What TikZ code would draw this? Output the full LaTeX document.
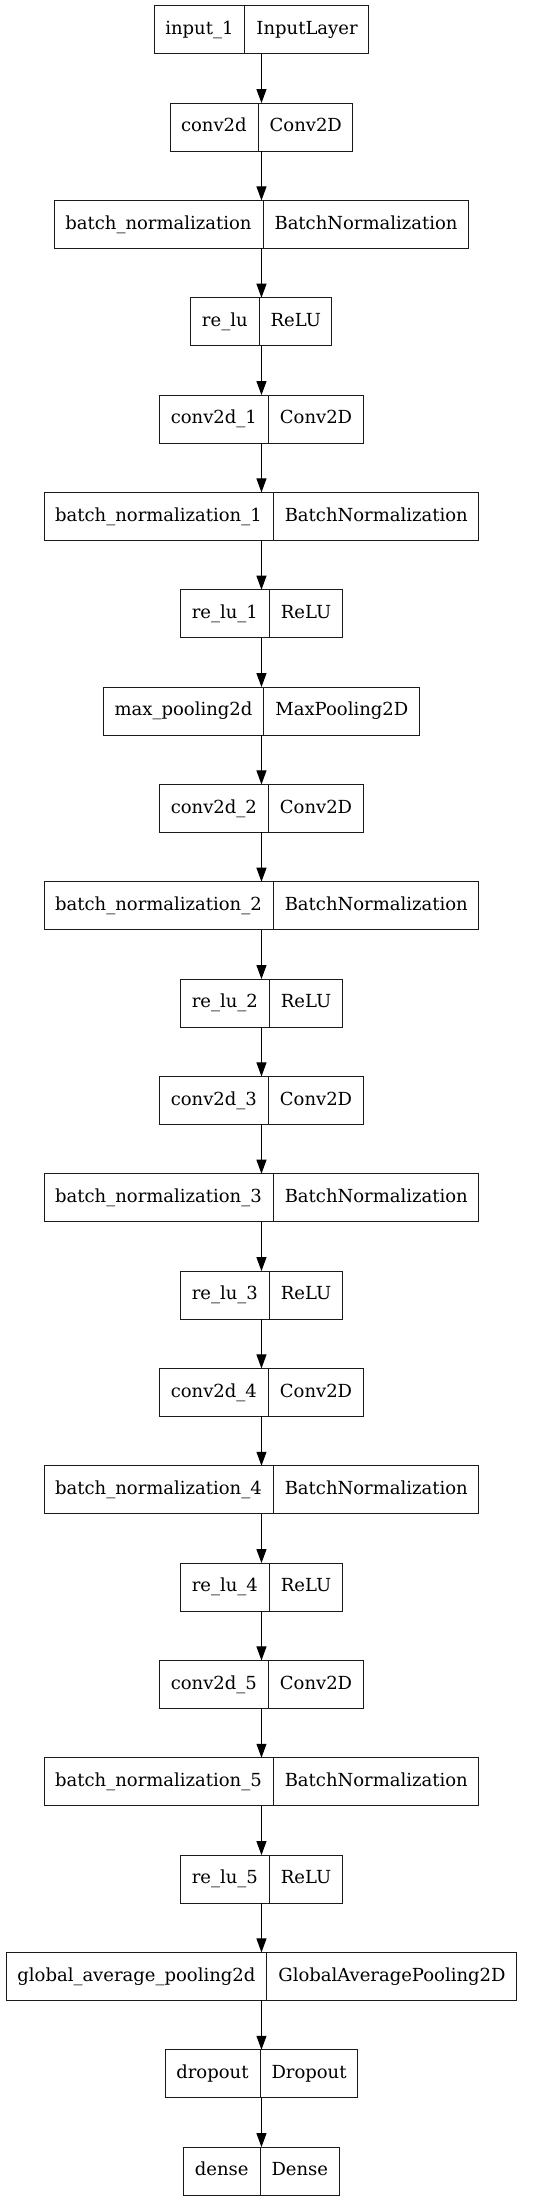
\documentclass[tikz,border=0pt]{standalone}
\usepackage{fontspec}
\setmainfont{DejaVu Serif}
\usepackage{tikz}
\usetikzlibrary{arrows.meta,positioning,shapes.multipart}
\definecolor{layerline}{HTML}{1A1A1A}
\definecolor{edgecolor}{HTML}{000000}

\tikzset{
    layer/.style={draw=layerline, line width=0.75pt, rectangle split, rectangle split horizontal,
        rectangle split parts=2, rectangle split part align=base, text height=10.5pt, text depth=3.5pt,
        inner xsep=8.25pt, inner ysep=11pt, outer sep=0pt, font=\fontsize{13.5pt}{16pt}\selectfont},
    flow/.style={draw=edgecolor, line width=0.75pt, -{Triangle[length=10.5pt,width=7.5pt]}}
}

\begin{document}
\begin{tikzpicture}[node distance=37pt]
    \useasboundingbox (0,0) rectangle (402.75pt,-1650.75pt);

    \node[layer] (in1) at (196.1pt,-22.3pt) {input\_1 \nodepart{two} InputLayer};
    \node[layer, below=of in1] (conv) {conv2d \nodepart{two} Conv2D};
    \node[layer, below=of conv] (bn) {batch\_normalization \nodepart{two} BatchNormalization};
    \node[layer, below=of bn] (relu) {re\_lu \nodepart{two} ReLU};
    \node[layer, below=of relu] (conv1) {conv2d\_1 \nodepart{two} Conv2D};
    \node[layer, below=of conv1] (bn1) {batch\_normalization\_1 \nodepart{two} BatchNormalization};
    \node[layer, below=of bn1] (relu1) {re\_lu\_1 \nodepart{two} ReLU};
    \node[layer, below=of relu1] (pool) {max\_pooling2d \nodepart{two} MaxPooling2D};
    \node[layer, below=of pool] (conv2) {conv2d\_2 \nodepart{two} Conv2D};
    \node[layer, below=of conv2] (bn2) {batch\_normalization\_2 \nodepart{two} BatchNormalization};
    \node[layer, below=of bn2] (relu2) {re\_lu\_2 \nodepart{two} ReLU};
    \node[layer, below=of relu2] (conv3) {conv2d\_3 \nodepart{two} Conv2D};
    \node[layer, below=of conv3] (bn3) {batch\_normalization\_3 \nodepart{two} BatchNormalization};
    \node[layer, below=of bn3] (relu3) {re\_lu\_3 \nodepart{two} ReLU};
    \node[layer, below=of relu3] (conv4) {conv2d\_4 \nodepart{two} Conv2D};
    \node[layer, below=of conv4] (bn4) {batch\_normalization\_4 \nodepart{two} BatchNormalization};
    \node[layer, below=of bn4] (relu4) {re\_lu\_4 \nodepart{two} ReLU};
    \node[layer, below=of relu4] (conv5) {conv2d\_5 \nodepart{two} Conv2D};
    \node[layer, below=of conv5] (bn5) {batch\_normalization\_5 \nodepart{two} BatchNormalization};
    \node[layer, below=of bn5] (relu5) {re\_lu\_5 \nodepart{two} ReLU};
    \node[layer, below=of relu5] (gap) {global\_average\_pooling2d \nodepart{two} GlobalAveragePooling2D};
    \node[layer, below=of gap] (drop) {dropout \nodepart{two} Dropout};
    \node[layer, below=of drop] (dense) {dense \nodepart{two} Dense};

    % connectors
    \draw[flow] (in1.south) -- (conv.north);
    \draw[flow] (conv.south) -- (bn.north);
    \draw[flow] (bn.south) -- (relu.north);
    \draw[flow] (relu.south) -- (conv1.north);
    \draw[flow] (conv1.south) -- (bn1.north);
    \draw[flow] (bn1.south) -- (relu1.north);
    \draw[flow] (relu1.south) -- (pool.north);
    \draw[flow] (pool.south) -- (conv2.north);
    \draw[flow] (conv2.south) -- (bn2.north);
    \draw[flow] (bn2.south) -- (relu2.north);
    \draw[flow] (relu2.south) -- (conv3.north);
    \draw[flow] (conv3.south) -- (bn3.north);
    \draw[flow] (bn3.south) -- (relu3.north);
    \draw[flow] (relu3.south) -- (conv4.north);
    \draw[flow] (conv4.south) -- (bn4.north);
    \draw[flow] (bn4.south) -- (relu4.north);
    \draw[flow] (relu4.south) -- (conv5.north);
    \draw[flow] (conv5.south) -- (bn5.north);
    \draw[flow] (bn5.south) -- (relu5.north);
    \draw[flow] (relu5.south) -- (gap.north);
    \draw[flow] (gap.south) -- (drop.north);
    \draw[flow] (drop.south) -- (dense.north);
\end{tikzpicture}
\end{document}
